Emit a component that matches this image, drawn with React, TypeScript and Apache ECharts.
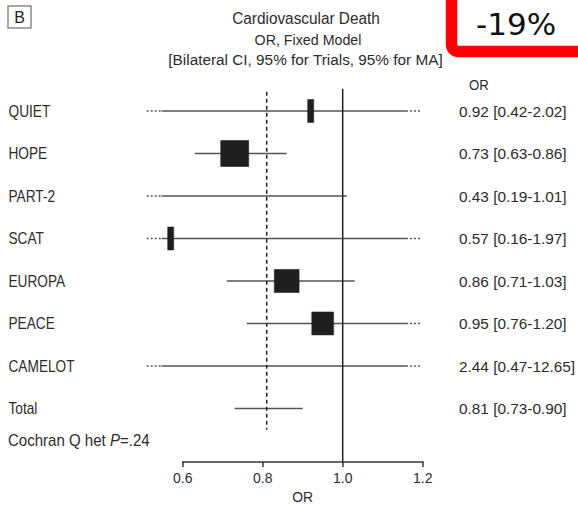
import React, { useEffect, useRef } from "react";
import * as echarts from "echarts";

// ---- data ----
const studies = ["QUIET", "HOPE", "PART-2", "SCAT", "EUROPA", "PEACE", "CAMELOT", "Total"];
const oddsRatios = [0.92, 0.73, 0.43, 0.57, 0.86, 0.95, 2.44, 0.81];
const ciLower = [0.42, 0.63, 0.19, 0.16, 0.71, 0.76, 0.47, 0.73];
const ciUpper = [2.02, 0.86, 1.01, 1.97, 1.03, 1.2, 12.65, 0.9];
// estimated relative weights (drive the marker box size); Total has no box
const weights = [1.3, 28, 1, 1.3, 22, 17, 1, 0];
const xTicks = [0.6, 0.8, 1.0, 1.2];
const pooledOR = 0.81;
const hetP = ".24";
const reduction = "-19%";
const titleLines = [
  "Cardiovascular Death",
  "OR, Fixed Model",
  "[Bilateral CI, 95% for Trials, 95% for MA]",
];

// ---- layout / style constants ----
const X_MIN = 0.5;
const X_MAX = 1.2;
const DOT_L = 0.51;
const DOT_R = 1.195;
const SOLID_L = 0.5475;
const SOLID_R = 1.158;
const Y_MIN = -0.5;
const Y_MAX = 8.26;
const FONT = "'Liberation Sans', Arial, Helvetica, sans-serif";
const TXT = "#2c2c2c";
const LINE = "#555555";

function condText(x: number, y: number, text: string, size: number, sx: number, align: string, extra: any = {}) {
  return {
    type: "text",
    x,
    y,
    scaleX: sx,
    style: {
      text,
      x: 0,
      y: 0,
      fontSize: size,
      fontFamily: FONT,
      fill: TXT,
      align,
      textAlign: align,
      verticalAlign: "middle",
      textVerticalAlign: "middle",
      ...extra,
    },
  };
}

export default function App() {
  const ref = useRef<HTMLDivElement>(null);
  useEffect(() => {
    document.body.style.margin = "0";
    if (!ref.current) return;
    const chart = echarts.init(ref.current, undefined, { renderer: "svg" });

    const rowData = studies.map((s, i) => [i, oddsRatios[i], ciLower[i], ciUpper[i], weights[i]]);

    const option: any = {
      animation: false,
      backgroundColor: "#ffffff",
      grid: { left: 142.7, top: 89.75, width: 280, height: 372.25, outerBoundsMode: "none" },
      xAxis: {
        type: "value",
        position: "bottom",
        min: X_MIN,
        max: X_MAX,
        axisLine: { show: false, onZero: false },
        splitLine: { show: false },
        axisTick: {
          show: true,
          customValues: xTicks,
          length: 5,
          lineStyle: { color: "#333", width: 1.5 },
        },
        axisLabel: {
          customValues: xTicks,
          formatter: (v: number) => v.toFixed(1),
          fontSize: 14,
          fontFamily: FONT,
          color: TXT,
          margin: 9,
        },
      },
      yAxis: {
        type: "value",
        inverse: true,
        min: Y_MIN,
        max: Y_MAX,
        show: false,
      },
      graphic: [
        // panel letter
        {
          type: "rect",
          shape: { x: 8, y: 6, width: 23, height: 22 },
          style: { fill: "#fff", stroke: "#8a8a8a", lineWidth: 1.5 },
        },
        {
          type: "text",
          x: 19.5,
          y: 17.5,
          style: {
            text: "B", fontSize: 16, fontFamily: FONT, fill: "#222",
            align: "center", textAlign: "center", verticalAlign: "middle", textVerticalAlign: "middle",
          },
        },
        // titles
        condText(306, 18, titleLines[0], 16, 0.96, "center"),
        condText(308, 40, titleLines[1], 15.5, 0.92, "center"),
        condText(305.5, 59, titleLines[2], 15.5, 0.99, "center"),
        // OR header on right
        condText(479, 85, "OR", 15, 0.88, "center"),
        // red callout
        {
          type: "rect",
          shape: { x: 451.5, y: -30, width: 220, height: 81.5, r: 7 },
          style: { fill: "#fff", stroke: "#ff0000", lineWidth: 11.5 },
        },
        {
          type: "text",
          x: 476,
          y: 23.5,
          style: {
            text: reduction, fontSize: 31, fontFamily: "'DejaVu Sans', Verdana, sans-serif", fill: "#111",
            align: "left", textAlign: "left", verticalAlign: "middle", textVerticalAlign: "middle",
          },
        },
      ],
      series: [
        {
          type: "custom",
          coordinateSystem: "cartesian2d",
          encode: { x: 1, y: 0 },
          data: rowData,
          renderItem: (params: any, api: any) => {
            const i = api.value(0);
            const or = api.value(1);
            const lo = api.value(2);
            const hi = api.value(3);
            const w = api.value(4);
            const y = api.coord([X_MIN, i])[1];
            const px = (v: number) => api.coord([v, i])[0];
            const children: any[] = [];
            const sL = Math.max(lo, SOLID_L);
            const sR = Math.min(hi, SOLID_R);
            children.push({
              type: "line",
              shape: { x1: px(sL), y1: y, x2: px(sR), y2: y },
              style: { stroke: LINE, lineWidth: 1.6 },
            });
            if (lo < SOLID_L) {
              children.push({
                type: "line",
                shape: { x1: px(DOT_L), y1: y, x2: px(SOLID_L), y2: y },
                style: { stroke: LINE, lineWidth: 1.6, lineDash: [2, 2] },
              });
            }
            if (hi > SOLID_R) {
              children.push({
                type: "line",
                shape: { x1: px(SOLID_R), y1: y, x2: px(DOT_R), y2: y },
                style: { stroke: LINE, lineWidth: 1.6, lineDash: [2, 2] },
              });
            }
            if (w > 0 && or >= DOT_L && or <= DOT_R) {
              const bw = 5.3 * Math.sqrt(w);
              const bh = Math.max(23, bw * 0.93);
              children.push({
                type: "rect",
                shape: { x: px(or) - bw / 2, y: y - bh / 2, width: bw, height: bh },
                style: { fill: "#1f1f1f", stroke: "#1f1f1f", lineWidth: 0.5 },
              });
            }
            children.push(condText(8.5, y + 0.5, studies[i], 16, 0.855, "left"));
            children.push(
              condText(
                459,
                y + 0.5,
                `${or.toFixed(2)} [${lo.toFixed(2)}-${hi.toFixed(2)}]`,
                15,
                1.025,
                "left"
              )
            );
            return { type: "group", children };
          },
        },
        {
          type: "custom",
          coordinateSystem: "cartesian2d",
          encode: { x: 0, y: 1 },
          data: [[pooledOR, 0]],
          renderItem: (params: any, api: any) => {
            const xPool = api.coord([pooledOR, 0])[0];
            const xOne = api.coord([1.0, 0])[0];
            const yTop = api.coord([1, Y_MIN])[1];
            const yBot = api.coord([1, Y_MAX])[1];
            const yDashEnd = api.coord([1, 7.5])[1];
            const xA0 = api.coord([xTicks[0], 0])[0];
            const xA1 = api.coord([xTicks[xTicks.length - 1], 0])[0];
            const yHet = api.coord([1, 7.76])[1];
            return {
              type: "group",
              children: [
                {
                  type: "line",
                  shape: { x1: xOne, y1: yTop - 1, x2: xOne, y2: yBot },
                  style: { stroke: "#222", lineWidth: 1.5 },
                },
                {
                  type: "line",
                  shape: { x1: xPool, y1: yTop + 2, x2: xPool, y2: yDashEnd },
                  style: { stroke: "#222", lineWidth: 1.5, lineDash: [4, 3] },
                },
                {
                  type: "line",
                  shape: { x1: xA0 - 0.75, y1: yBot, x2: xA1 + 0.75, y2: yBot },
                  style: { stroke: "#333", lineWidth: 1.5 },
                },
                condText((xA0 + xA1) / 2, 497, "OR", 15.5, 0.9, "center"),
                condText(8, yHet, `Cochran Q het {i|P}=${hetP}`, 16, 0.94, "left", {
                  rich: {
                    i: { fontStyle: "italic", fontSize: 16, fontFamily: FONT, fill: TXT, color: TXT },
                  },
                }),
              ],
            };
          },
        },
      ],
    };
    chart.setOption(option);
    return () => chart.dispose();
  }, []);
  return <div ref={ref} style={{ width: 578, height: 506 }} />;
}
